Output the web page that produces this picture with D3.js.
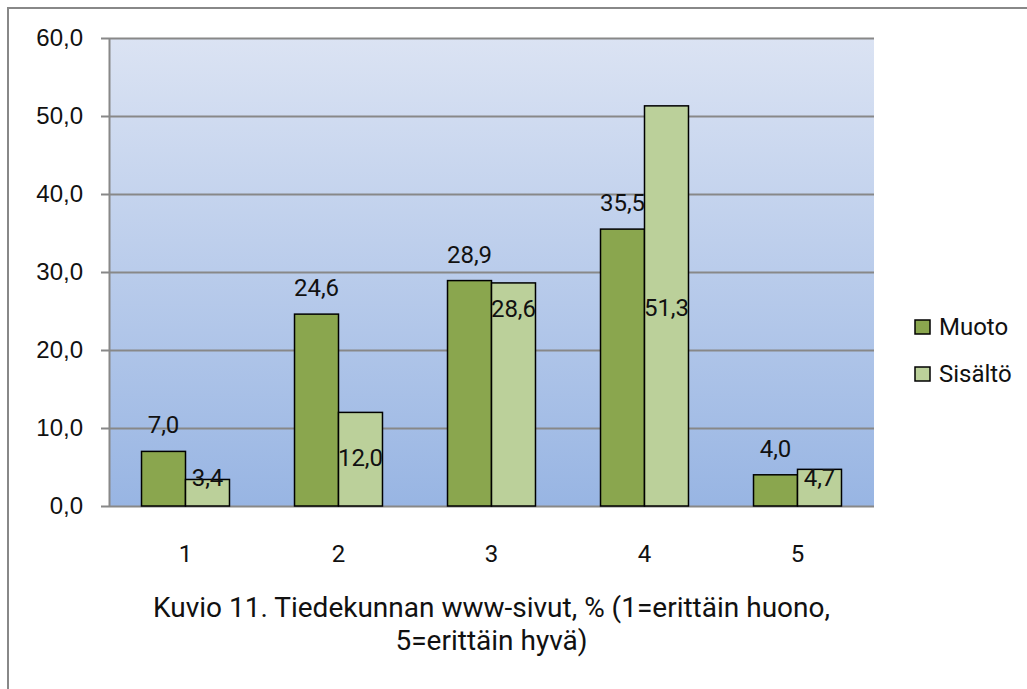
<!DOCTYPE html>
<html>
<head>
<meta charset="utf-8">
<script src="https://cdn.jsdelivr.net/npm/d3@7"></script>
<style>
  body { margin: 0; background: #fff; }
  svg { display: block; font-family: Roboto, "Noto Sans", sans-serif; }
</style>
</head>
<body>
<div id="chart"></div>
<script>
const categories = ["1", "2", "3", "4", "5"];
const seriesNames = ["Muoto", "Sisältö"];
const muoto = [7.0, 24.6, 28.9, 35.5, 4.0];
const sisalto = [3.4, 12.0, 28.6, 51.3, 4.7];
// where the Sisältö labels sit, on the value scale (as placed in the original)
const sisaltoLabelAt = [3.6, 6.2, 25.3, 25.4, 3.6];
const yTicks = [0, 10, 20, 30, 40, 50, 60];
const titleLines = ["Kuvio 11. Tiedekunnan www-sivut, % (1=erittäin huono,", "5=erittäin hyvä)"];

const W = 1027, H = 689;
const plot = { left: 109, right: 874, top: 38, bottom: 506 };
const colors = ["#8aa64e", "#bbd09a"];
const fmt = v => v.toFixed(1).replace(".", ",");

const svg = d3.select("#chart").append("svg")
  .attr("width", W).attr("height", H);

// outer frame (right/bottom run off the picture)
svg.append("rect")
  .attr("x", 8).attr("y", 8)
  .attr("width", W + 10).attr("height", H + 10)
  .attr("fill", "none").attr("stroke", "#888").attr("stroke-width", 2);

const grad = svg.append("defs").append("linearGradient")
  .attr("id", "bg").attr("x1", 0).attr("y1", 0).attr("x2", 0).attr("y2", 1);
grad.append("stop").attr("offset", "0%").attr("stop-color", "#dbe3f3");
grad.append("stop").attr("offset", "100%").attr("stop-color", "#98b5e3");

const x = d3.scaleBand().domain(categories)
  .range([plot.left, plot.right]).paddingInner(0.425).paddingOuter(0.2125);
const xs = d3.scaleBand().domain(seriesNames).range([0, x.bandwidth()]);
const y = d3.scaleLinear().domain([0, 60]).range([plot.bottom, plot.top]);

svg.append("rect")
  .attr("x", plot.left).attr("y", plot.top)
  .attr("width", plot.right - plot.left).attr("height", plot.bottom - plot.top)
  .attr("fill", "url(#bg)");

// gridlines + y axis
const yAxis = d3.axisLeft(y).tickValues(yTicks).tickFormat(fmt)
  .tickSize(-(plot.right - plot.left)).tickSizeOuter(0).tickPadding(26);
const gy = svg.append("g").attr("transform", `translate(${plot.left},0)`).call(yAxis);
gy.select(".domain").attr("stroke", "#888").attr("stroke-width", 2);
gy.selectAll(".tick line").attr("stroke", "#888").attr("stroke-width", 2).attr("x1", -8);
gy.selectAll(".tick text").attr("font-size", 24).attr("fill", "#111");

const data = categories.map((c, i) => ({ c, vals: [muoto[i], sisalto[i]] }));

const groups = svg.append("g").selectAll("g").data(data).join("g")
  .attr("transform", d => `translate(${x(d.c)},0)`);

groups.selectAll("rect").data(d => d.vals.map((v, j) => ({ v, j })))
  .join("rect")
  .attr("x", d => xs(seriesNames[d.j]))
  .attr("y", d => y(d.v))
  .attr("width", xs.bandwidth())
  .attr("height", d => y(0) - y(d.v))
  .attr("fill", d => colors[d.j])
  .attr("stroke", "#000").attr("stroke-width", 1.5);

// Muoto labels above bars
groups.append("text")
  .attr("x", xs("Muoto") + xs.bandwidth() / 2)
  .attr("y", d => y(d.vals[0]) - 18)
  .attr("text-anchor", "middle").attr("font-size", 24).attr("fill", "#111")
  .text(d => fmt(d.vals[0]));

// Sisältö labels
groups.append("text")
  .attr("x", xs("Sisältö") + xs.bandwidth() / 2)
  .attr("y", (d, i) => y(sisaltoLabelAt[i]))
  .attr("dy", "0.35em")
  .attr("text-anchor", "middle").attr("font-size", 24).attr("fill", "#111")
  .text(d => fmt(d.vals[1]));

// x axis labels
svg.append("g").selectAll("text").data(categories).join("text")
  .attr("x", d => x(d) + x.bandwidth() / 2)
  .attr("y", 562)
  .attr("text-anchor", "middle").attr("font-size", 24).attr("fill", "#111")
  .text(d => d);

// title
svg.append("g").selectAll("text").data(titleLines).join("text")
  .attr("x", (plot.left + plot.right) / 2)
  .attr("y", (d, i) => 617 + i * 33)
  .attr("text-anchor", "middle").attr("font-size", 28).attr("fill", "#111")
  .text(d => d);

// legend
const lg = svg.append("g").selectAll("g").data(seriesNames).join("g")
  .attr("transform", (d, i) => `translate(915,${320 + i * 47})`);
lg.append("rect").attr("width", 15).attr("height", 14)
  .attr("fill", (d, i) => colors[i]).attr("stroke", "#000").attr("stroke-width", 1.5);
lg.append("text").attr("x", 24).attr("y", 7).attr("dy", "0.35em")
  .attr("font-size", 24).attr("fill", "#111").text(d => d);
</script>
</body>
</html>
